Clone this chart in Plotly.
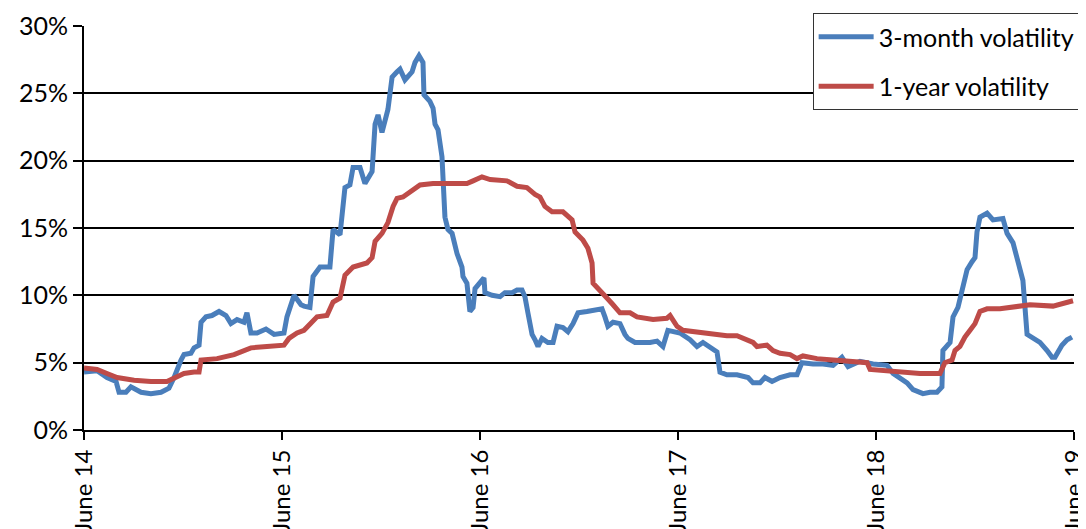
import plotly.graph_objects as go

# x = years since June 2014, y = volatility in %
t_3m = [0, 0.066, 0.116, 0.162, 0.177, 0.212, 0.237, 0.288, 0.338, 0.389, 0.429, 0.455, 0.490, 0.505,
        0.540, 0.556, 0.581, 0.591, 0.616, 0.646, 0.682, 0.717, 0.742, 0.773, 0.808, 0.823, 0.843,
        0.874, 0.919, 0.960, 1.010, 1.025, 1.061, 1.096, 1.111, 1.141, 1.157, 1.192, 1.242, 1.258,
        1.293, 1.318, 1.343, 1.359, 1.394, 1.419, 1.455, 1.470, 1.485, 1.505, 1.535, 1.556, 1.581,
        1.596, 1.621, 1.657, 1.672, 1.692, 1.712, 1.717, 1.747, 1.763, 1.773, 1.788, 1.808, 1.813,
        1.823, 1.838, 1.859, 1.884, 1.909, 1.914, 1.934, 1.949, 1.965, 1.975, 2.000, 2.020, 2.025,
        2.061, 2.101, 2.126, 2.162, 2.187, 2.212, 2.227, 2.242, 2.263, 2.278, 2.293, 2.313, 2.343,
        2.369, 2.389, 2.419, 2.444, 2.470, 2.495, 2.540, 2.571, 2.616, 2.631, 2.646, 2.672, 2.707,
        2.732, 2.747, 2.783, 2.818, 2.859, 2.894, 2.924, 2.949, 2.985, 3.010, 3.061, 3.096, 3.126,
        3.162, 3.197, 3.212, 3.247, 3.298, 3.354, 3.379, 3.414, 3.439, 3.475, 3.515, 3.566, 3.601,
        3.626, 3.682, 3.732, 3.783, 3.828, 3.859, 3.919, 3.985, 4.056, 4.086, 4.121, 4.157, 4.187,
        4.237, 4.273, 4.308, 4.333, 4.338, 4.374, 4.389, 4.414, 4.434, 4.460, 4.485, 4.500, 4.510,
        4.525, 4.561, 4.591, 4.641, 4.662, 4.692, 4.712, 4.727, 4.742, 4.763, 4.793, 4.828, 4.864,
        4.889, 4.904, 4.939, 4.965, 4.990]
vol_3m = [4.3, 4.4, 3.9, 3.6, 2.8, 2.8, 3.2, 2.8, 2.7, 2.8, 3.1, 3.9, 5.2, 5.6,
          5.7, 6.1, 6.3, 8.0, 8.4, 8.5, 8.8, 8.5, 7.9, 8.2, 8.0, 8.7, 7.2,
          7.2, 7.5, 7.1, 7.2, 8.4, 10.0, 9.3, 9.2, 9.1, 11.4, 12.1, 12.1, 14.9,
          14.5, 18.0, 18.2, 19.5, 19.5, 18.3, 19.2, 22.7, 23.4, 22.1, 23.8, 26.2, 26.6,
          26.8, 26.0, 26.6, 27.3, 27.8, 27.3, 24.9, 24.4, 23.9, 22.7, 22.3, 20.3, 18.6,
          15.8, 14.9, 14.6, 13.1, 12.1, 11.4, 10.9, 8.8, 9.1, 10.5, 11.0, 11.3, 10.2,
          10.0, 9.9, 10.2, 10.2, 10.4, 10.4, 9.9, 8.7, 7.1, 6.7, 6.2, 6.8, 6.5,
          6.5, 7.7, 7.6, 7.3, 7.9, 8.7, 8.8, 8.9, 9.0, 8.4, 7.7, 8.0, 7.9,
          7.1, 6.8, 6.5, 6.5, 6.5, 6.6, 6.2, 7.4, 7.3, 7.2, 6.7, 6.2, 6.5,
          6.1, 5.8, 4.3, 4.1, 4.1, 3.9, 3.5, 3.5, 3.9, 3.6, 3.9, 4.1, 4.1,
          5.0, 4.9, 4.9, 4.8, 5.4, 4.7, 5.1, 4.9, 4.8, 4.2, 3.9, 3.5, 3.0,
          2.7, 2.8, 2.8, 3.2, 5.9, 6.5, 8.4, 9.1, 10.4, 11.9, 12.5, 12.8, 14.7,
          15.8, 16.1, 15.6, 15.7, 14.6, 13.9, 12.8, 11.9, 11.1, 7.1, 6.8, 6.5, 5.9,
          5.4, 5.4, 6.3, 6.7, 6.9]

t_1y = [0, 0.066, 0.116, 0.167, 0.253, 0.338, 0.419, 0.470, 0.505, 0.556, 0.581, 0.591, 0.672,
        0.758, 0.843, 0.924, 1.010, 1.035, 1.076, 1.111, 1.141, 1.177, 1.227, 1.258, 1.293, 1.318,
        1.359, 1.429, 1.455, 1.470, 1.505, 1.535, 1.561, 1.581, 1.611, 1.662, 1.697, 1.763, 1.848,
        1.934, 1.965, 2.010, 2.051, 2.101, 2.136, 2.187, 2.237, 2.278, 2.303, 2.328, 2.364, 2.419,
        2.465, 2.480, 2.520, 2.545, 2.566, 2.571, 2.606, 2.641, 2.672, 2.707, 2.758, 2.793, 2.874,
        2.944, 2.960, 2.995, 3.025, 3.076, 3.162, 3.247, 3.298, 3.348, 3.379, 3.399, 3.449, 3.480,
        3.515, 3.566, 3.601, 3.631, 3.702, 3.783, 3.884, 3.955, 3.970, 4.056, 4.121, 4.222, 4.323,
        4.348, 4.384, 4.399, 4.424, 4.449, 4.475, 4.500, 4.525, 4.561, 4.626, 4.692, 4.778, 4.894,
        4.944, 4.995]
vol_1y = [4.6, 4.5, 4.2, 3.9, 3.7, 3.6, 3.6, 3.9, 4.2, 4.3, 4.3, 5.2, 5.3,
          5.6, 6.1, 6.2, 6.3, 6.8, 7.2, 7.4, 7.9, 8.4, 8.5, 9.5, 9.8, 11.5,
          12.1, 12.4, 12.8, 14.0, 14.6, 15.4, 16.6, 17.2, 17.3, 17.8, 18.2, 18.3, 18.3,
          18.3, 18.5, 18.8, 18.6, 18.5, 18.5, 18.1, 18.0, 17.5, 17.3, 16.6, 16.2, 16.2,
          15.6, 14.7, 14.1, 13.5, 12.4, 10.9, 10.4, 9.8, 9.3, 8.7, 8.7, 8.4, 8.2,
          8.3, 8.5, 7.7, 7.4, 7.3, 7.1, 7.0, 7.0, 6.7, 6.5, 6.2, 6.3, 5.9,
          5.7, 5.6, 5.3, 5.5, 5.3, 5.2, 5.1, 5.0, 4.5, 4.4, 4.3, 4.2, 4.2,
          5.0, 5.2, 5.9, 6.2, 6.9, 7.4, 7.9, 8.8, 9.0, 9.0, 9.1, 9.3, 9.2,
          9.4, 9.6]

x_tickvals = [0, 1, 2, 3, 4, 5]
x_ticktext = ["June 14", "June 15", "June 16", "June 17", "June 18", "June 19"]
y_tickvals = [0, 5, 10, 15, 20, 25, 30]
y_ticktext = [f"{v}%" for v in y_tickvals]

FONT = "Lato, 'Open Sans', sans-serif"

fig = go.Figure()
fig.add_trace(go.Scatter(x=t_3m, y=vol_3m, mode="lines", name="3-month volatility",
                         legendgroup="a",
                         line=dict(color="#4A7EBB", width=5)))
fig.add_trace(go.Scatter(x=t_1y, y=vol_1y, mode="lines", name="1-year volatility",
                         legendgroup="b",
                         line=dict(color="#BE4B48", width=5)))

# page body has an 8px margin: figure sized/offset to compensate
fig.update_layout(
    width=1078, height=521,
    margin=dict(l=76, r=12, t=18, b=99, autoexpand=False),
    paper_bgcolor="white", plot_bgcolor="white",
    font=dict(family=FONT, size=25, color="black"),
    showlegend=True,
    legend=dict(x=0.736, y=1.032, xanchor="left", yanchor="top",
                bgcolor="white", bordercolor="#333333", borderwidth=1,
                font=dict(family=FONT, size=25, color="black"),
                tracegroupgap=14, itemwidth=55, traceorder="grouped"),
    xaxis=dict(range=[0, 5], tickmode="array", tickvals=x_tickvals, ticktext=x_ticktext,
               tickangle=-90, ticks="outside", ticklen=8, tickwidth=2, tickcolor="black",
               showline=True, linecolor="black", linewidth=2, showgrid=False,
               zeroline=False, automargin=False, ticklabeloverflow="allow",
               tickfont=dict(family=FONT, size=24, color="black")),
    yaxis=dict(range=[0, 30], tickmode="array", tickvals=y_tickvals, ticktext=y_ticktext,
               ticks="outside", ticklen=9, tickwidth=2, tickcolor="black",
               showline=True, linecolor="black", linewidth=2,
               showgrid=True, gridcolor="black", gridwidth=2, zeroline=False,
               automargin=False,
               tickfont=dict(family=FONT, size=25, color="black")),
)

fig.write_html("out.html")
